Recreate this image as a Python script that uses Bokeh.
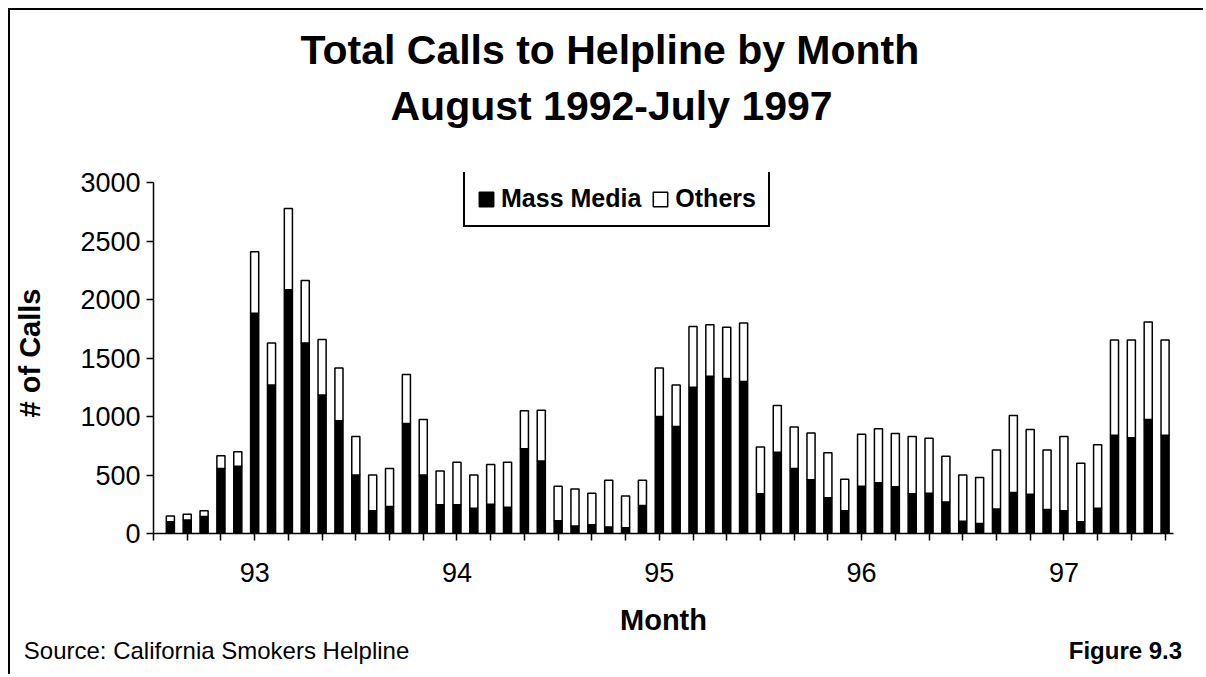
from bokeh.plotting import figure
from bokeh.models import Range1d, FixedTicker, ColumnDataSource, Title, LinearAxis
from bokeh.embed import file_html
from bokeh.resources import INLINE

# ---- data: monthly calls, August 1992 (1) ... July 1997 (60) ----
month_index = list(range(1, 61))
mass_media = [100, 115, 145, 555, 575, 1885, 1270, 2085, 1630, 1185,
              965, 500, 195, 230, 940, 500, 245, 245, 215, 250,
              225, 725, 620, 110, 65, 75, 55, 50, 240, 1000,
              915, 1250, 1345, 1325, 1300, 340, 695, 555, 460, 305,
              195, 405, 435, 400, 340, 345, 270, 105, 85, 210,
              350, 335, 205, 195, 100, 215, 840, 820, 975, 840]
others = [50, 50, 50, 110, 125, 525, 360, 695, 535, 475,
          450, 330, 305, 325, 420, 475, 290, 365, 285, 340,
          385, 325, 435, 295, 315, 270, 400, 270, 215, 415,
          355, 520, 440, 440, 500, 400, 400, 355, 400, 385,
          270, 445, 460, 455, 490, 470, 390, 395, 395, 505,
          660, 555, 510, 635, 500, 545, 815, 835, 835, 815]
x_ticks = list(range(0, 61, 2))
year_labels = {6: "93", 18: "94", 30: "95", 42: "96", 54: "97"}
y_ticks = [0, 500, 1000, 1500, 2000, 2500, 3000]
series_names = ["Mass Media", "Others"]

FONT = "Liberation Sans"
O = 10                      # page offset of the canvas (margin + border)
W, H = 1195, 666
ML, MR, MT, MB = 143, 32, 162, 143
XMAX, YMAX = 60.5, 3088
FW, FH = W - ML - MR, H - MT - MB

src = ColumnDataSource(dict(month=month_index, mass_media=mass_media, others=others))

p = figure(width=W, height=H, output_backend="svg", toolbar_location=None, title=None,
           x_range=Range1d(0, XMAX), y_range=Range1d(0, YMAX),
           min_border_left=ML, min_border_right=MR, min_border_top=MT, min_border_bottom=MB,
           background_fill_color="white", border_fill_color="white",
           outline_line_color=None,
           styles={"margin-left": "8px", "margin-top": "8px",
                   "border-left": "2px solid black", "border-top": "2px solid black"})
p.xgrid.visible = False
p.ygrid.visible = False

p.vbar_stack(["mass_media", "others"], x="month", width=0.48, source=src,
             fill_color=["black", "white"], line_color="black", line_width=1.5,
             legend_label=series_names)

xax = p.xaxis[0]
yax = p.yaxis[0]
for ax in (xax, yax):
    ax.axis_line_color = "black"
    ax.axis_line_width = 1.5
    ax.major_tick_line_color = "black"
    ax.major_tick_line_width = 1.5
    ax.major_tick_in = 0
    ax.major_tick_out = 7
    ax.minor_tick_line_color = None
    ax.major_label_text_font = FONT
    ax.major_label_text_font_size = "27px"
    ax.major_label_text_color = "black"
    ax.axis_label_text_font = FONT
    ax.axis_label_text_font_style = "bold"
    ax.axis_label_text_font_size = "29px"
    ax.axis_label_text_color = "black"

xax.ticker = FixedTicker(ticks=x_ticks)
xax.major_label_overrides = {t: year_labels.get(t, "") for t in x_ticks}
xax.major_label_standoff = 22
xax.axis_label = "Month"
xax.axis_label_standoff = 19

yax.ticker = FixedTicker(ticks=y_ticks)
yax.bounds = (0, 3000)
yax.major_label_standoff = 6
yax.axis_label = "# of Calls"
yax.axis_label_standoff = 31

# legend
leg = p.legend[0]
leg.orientation = "horizontal"
leg.location = (310, 306)
leg.label_text_font = FONT
leg.label_text_font_style = "bold"
leg.label_text_font_size = "25px"
leg.label_text_color = "black"
leg.label_height = 29
leg.label_width = 80
leg.glyph_width = 18
leg.glyph_height = 18
leg.label_standoff = 6
leg.spacing = 10
leg.padding = 12
leg.margin = 0
leg.border_line_color = "black"
leg.border_line_width = 2
leg.border_line_alpha = 1.0
leg.background_fill_color = "white"
leg.background_fill_alpha = 1.0


def dx(px):
    return (px - O - ML) * XMAX / FW


frame_left = O + ML
# title lines (stacked above the frame, outermost last)
p.add_layout(Title(text=" ", text_font_size="10px", standoff=31), "above")
p.add_layout(Title(text="August 1992-July 1997", align="left", offset=390 - frame_left,
                   text_font=FONT, text_font_style="bold", text_font_size="41px",
                   text_color="black", standoff=0), "above")
p.add_layout(Title(text="Total Calls to Helpline by Month", align="left", offset=300 - frame_left,
                   text_font=FONT, text_font_style="bold", text_font_size="41px",
                   text_color="black", standoff=16), "above")

# footer texts via bare axes (no line, no ticks)
src_x = round(dx(216), 2)
fig_x = round(dx(1125), 2)


def text_axis(pos, text, bold, standoff):
    ax = LinearAxis(ticker=FixedTicker(ticks=[pos]), major_label_overrides={pos: text},
                    axis_line_color=None, major_tick_line_color=None, minor_tick_line_color=None,
                    major_tick_in=0, major_tick_out=0, major_label_standoff=standoff,
                    major_label_text_font=FONT, major_label_text_font_size="24px",
                    major_label_text_font_style="bold" if bold else "normal",
                    major_label_text_color="black")
    p.add_layout(ax, "below")


text_axis(src_x, "Source: California Smokers Helpline", False, -2)
text_axis(fig_x, "Figure 9.3", True, -30)

open("out.html", "w").write(file_html(p, INLINE))
